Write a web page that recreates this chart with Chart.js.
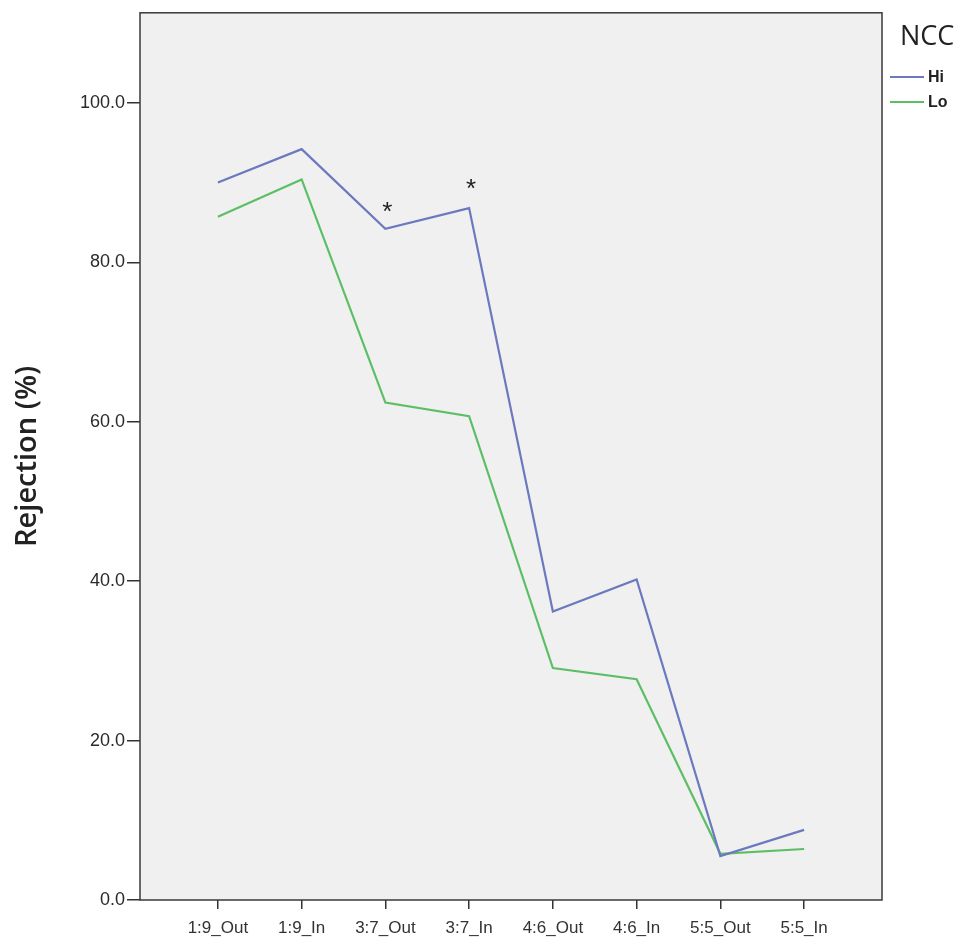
<!DOCTYPE html>
<html>
<head>
<meta charset="utf-8">
<script src="https://cdn.jsdelivr.net/npm/chart.js@4"></script>
<style>
  html, body { margin: 0; padding: 0; background: #fff; }
  #wrap { width: 963px; height: 941px; }
</style>
</head>
<body>
<div id="wrap"><canvas id="chart" width="963" height="941"></canvas></div>
<script>
let categories = ["1:9_Out", "1:9_In", "3:7_Out", "3:7_In", "4:6_Out", "4:6_In", "5:5_Out", "5:5_In"];
let hiValues = [90.0, 94.2, 84.2, 86.8, 36.2, 40.2, 5.5, 8.8];
let loValues = [85.7, 90.4, 62.4, 60.7, 29.1, 27.7, 5.8, 6.4];
let yTicks = [0, 20, 40, 60, 80, 100];
// significance marks: category index and height
let starCats = [2, 3];
let starVals = [87.0, 89.8];

let hiColor = "#6b79bf";
let loColor = "#5cbf66";

function toPoints(vals) {
    return vals.map((v, i) => ({ x: i, y: v }));
}

let framePlugin = {
    id: "frame",
    beforeDraw(chart) {
        let a = chart.chartArea;
        let c = chart.ctx;
        c.save();
        c.fillStyle = "#f0f0f0";
        c.fillRect(a.left, a.top, a.right - a.left, a.bottom - a.top);
        c.restore();
    },
    afterDraw(chart) {
        let a = chart.chartArea;
        let c = chart.ctx;
        let xs = chart.scales.x, ys = chart.scales.y;
        c.save();
        c.strokeStyle = "#3a3a3a";
        c.lineWidth = 1.5;
        c.strokeRect(a.left, a.top, a.right - a.left, a.bottom - a.top);

        // asterisks
        c.fillStyle = "#222";
        c.font = "26px 'Liberation Sans', Arial, sans-serif";
        c.textAlign = "center";
        c.textBaseline = "middle";
        starCats.forEach((ci, k) => {
            c.fillText("*", xs.getPixelForValue(ci) + 2, ys.getPixelForValue(starVals[k]) + 6);
        });

        // legend
        c.fillStyle = "#222";
        c.font = "27px 'Open Sans', sans-serif";
        c.textAlign = "left";
        c.textBaseline = "middle";
        c.fillText("NCC", 900, 37);
        c.font = "bold 16px 'Liberation Sans', Arial, sans-serif";
        let items = [["Hi", hiColor, 77], ["Lo", loColor, 102]];
        items.forEach(it => {
            c.strokeStyle = it[1];
            c.lineWidth = 2;
            c.beginPath();
            c.moveTo(890, it[2]);
            c.lineTo(924, it[2]);
            c.stroke();
            c.fillStyle = "#222";
            c.fillText(it[0], 928, it[2] + 1);
        });
        c.restore();
    }
};

let ctx = document.getElementById("chart").getContext("2d");
let chart = new Chart(ctx, {
    type: "line",
    data: {
        datasets: [
            { label: "Hi", data: toPoints(hiValues), borderColor: hiColor, borderWidth: 2.2, pointRadius: 0, tension: 0, fill: false },
            { label: "Lo", data: toPoints(loValues), borderColor: loColor, borderWidth: 2.2, pointRadius: 0, tension: 0, fill: false }
        ]
    },
    options: {
        responsive: false,
        animation: false,
        events: [],
        layout: { padding: { top: 12, right: 81, left: 0, bottom: 0 } },
        plugins: {
            legend: { display: false },
            tooltip: { enabled: false }
        },
        scales: {
            x: {
                type: "linear",
                min: -0.93,
                max: 7.93,
                afterBuildTicks(scale) {
                    scale.ticks = categories.map((c, i) => ({ value: i }));
                },
                afterFit(scale) { scale.height = 41; },
                grid: { drawOnChartArea: false, drawTicks: true, tickLength: 9, color: "#333", lineWidth: 1.5 },
                border: { display: false },
                ticks: {
                    color: "#333",
                    font: { family: "'Liberation Sans', Arial, sans-serif", size: 17 },
                    padding: 9,
                    maxRotation: 0,
                    autoSkip: false,
                    callback: (v) => categories[v]
                }
            },
            y: {
                min: 0,
                max: 111.3,
                afterBuildTicks(scale) {
                    scale.ticks = yTicks.map(v => ({ value: v }));
                },
                afterFit(scale) { scale.width = 140; },
                grid: { drawOnChartArea: false, drawTicks: true, tickLength: 13, color: "#333", lineWidth: 1.5 },
                border: { display: false },
                title: {
                    display: true,
                    text: "Rejection (%)",
                    color: "#222",
                    font: { family: "'Open Sans', sans-serif", size: 29, weight: "600" },
                    padding: { top: 10, bottom: 0 }
                },
                ticks: {
                    color: "#2a2a2a",
                    font: { family: "'Liberation Sans', Arial, sans-serif", size: 18 },
                    padding: 2,
                    callback: (v) => v.toFixed(1)
                }
            }
        }
    },
    plugins: [framePlugin]
});
</script>
</body>
</html>
